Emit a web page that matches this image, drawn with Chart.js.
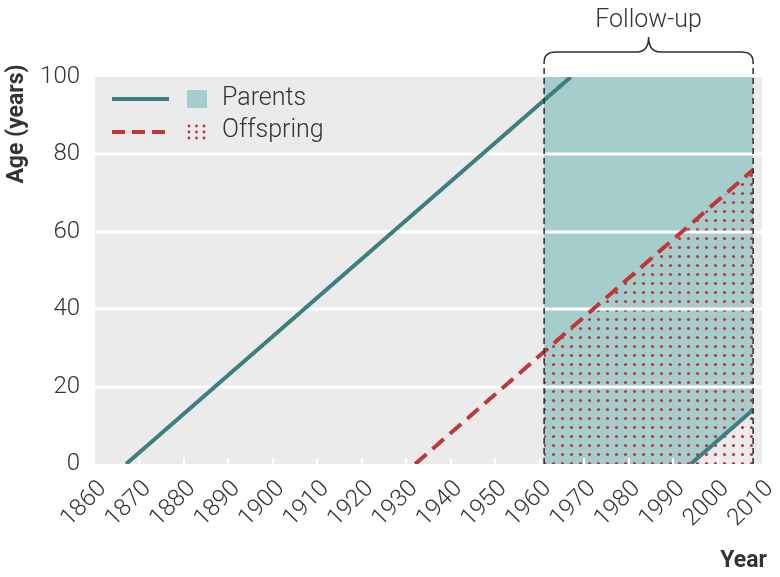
<!DOCTYPE html>
<html>
<head>
<meta charset="utf-8">
<script src="https://cdn.jsdelivr.net/npm/chart.js@4/dist/chart.umd.min.js"></script>
<style>
  html, body { margin: 0; padding: 0; background: #fff; }
  #wrap { width: 780px; height: 577px; position: relative; }
</style>
</head>
<body>
<div id="wrap"><canvas id="chart" width="780" height="577"></canvas></div>
<script>
// data
const yearTicks = [1860, 2010, 10];      // min, max, step
const ageTicks = [0, 100, 20];

const followUp = [1961, 2008];           // follow-up window (years)

const parentsYears = [1867, 1967];
const parentsAge = [0, 100];

const parentsLateYears = [1994, 2008];
const parentsLateAge = [0, 14];

const offspringYears = [1932, 2008];
const offspringAge = [0, 76];
const offspringFollowAge = [29, 76];     // offspring age at start / end of follow-up

const TEAL = '#3d7e7e';
const TEAL_FILL = '#a5cdcc';
const RED = '#c0373a';
const BG = '#ebebeb';
const FONT = 'Roboto, "Open Sans", sans-serif';

function pts(xs, ys) {
    return xs.map((x, i) => ({ x: x, y: ys[i] }));
}

// dotted pattern for offspring area
const patCanvas = document.createElement('canvas');
patCanvas.width = 9;
patCanvas.height = 9;
let pc = patCanvas.getContext('2d');
pc.fillStyle = RED;
pc.beginPath();
pc.arc(4.5, 4.5, 1.6, 0, Math.PI * 2);
pc.fill();
const dots = document.createElement('canvas').getContext('2d').createPattern(patCanvas, 'repeat');

// teal area: between top of axis and the late parent line
const tealTop = followUp.map(x => ({ x: x, y: ageTicks[1] }));
const tealBottom = [{ x: followUp[0], y: 0 }].concat(pts(parentsLateYears, parentsLateAge));

// background + grid + annotations
let gridDone = false;
const decor = {
    id: 'decor',
    beforeDraw(chart) {
        const { ctx, chartArea: a } = chart;
        ctx.save();
        ctx.fillStyle = BG;
        ctx.fillRect(a.left, a.top, a.right - a.left, a.bottom - a.top);
        ctx.restore();
    },
    beforeDatasetsDraw() { gridDone = false; },
    beforeDatasetDraw(chart, args) {
        if (gridDone || args.index > 2) return;
        gridDone = true;
        const { ctx, chartArea: a, scales } = chart;
        ctx.save();
        ctx.strokeStyle = '#fff';
        ctx.lineWidth = 3;
        for (let v = ageTicks[0] + ageTicks[2]; v < ageTicks[1]; v += ageTicks[2]) {
            const y = Math.round(scales.y.getPixelForValue(v));
            ctx.beginPath();
            ctx.moveTo(a.left, y);
            ctx.lineTo(a.right, y);
            ctx.stroke();
        }
        ctx.lineWidth = 2;
        for (let v = yearTicks[0] + yearTicks[2]; v < yearTicks[1]; v += yearTicks[2]) {
            const x = Math.round(scales.x.getPixelForValue(v));
            ctx.beginPath();
            ctx.moveTo(x, a.bottom);
            ctx.lineTo(x, a.bottom - 6);
            ctx.stroke();
        }
        ctx.restore();
    },
    afterDraw(chart) {
        const { ctx, chartArea: a, scales } = chart;
        const xs = followUp.map(v => scales.x.getPixelForValue(v));
        ctx.save();
        // follow-up dashed lines
        ctx.strokeStyle = '#2e2e2e';
        ctx.lineWidth = 1.5;
        ctx.setLineDash([6, 4]);
        xs.forEach(x => {
            ctx.beginPath();
            ctx.moveTo(x, a.bottom);
            ctx.lineTo(x, a.top - 15);
            ctx.stroke();
        });
        ctx.setLineDash([]);
        // brace
        const L = xs[0], R = xs[1], M = (L + R) / 2;
        const yb = a.top - 25, yt = a.top - 40;
        ctx.beginPath();
        ctx.moveTo(L, a.top - 15);
        ctx.quadraticCurveTo(L, yb, L + 12, yb);
        ctx.lineTo(M - 12, yb);
        ctx.quadraticCurveTo(M, yb, M, yt);
        ctx.quadraticCurveTo(M, yb, M + 12, yb);
        ctx.lineTo(R - 12, yb);
        ctx.quadraticCurveTo(R, yb, R, a.top - 15);
        ctx.stroke();
        ctx.fillStyle = '#333';
        ctx.font = '300 25px ' + FONT;
        ctx.textAlign = 'center';
        ctx.textBaseline = 'alphabetic';
        ctx.fillText('Follow-up', M, 27);

        // legend
        ctx.lineWidth = 4;
        ctx.strokeStyle = TEAL;
        ctx.beginPath();
        ctx.moveTo(112, 99);
        ctx.lineTo(169, 99);
        ctx.stroke();
        ctx.fillStyle = TEAL_FILL;
        ctx.fillRect(187, 90, 20, 18);
        ctx.strokeStyle = RED;
        ctx.setLineDash([13, 7]);
        ctx.beginPath();
        ctx.moveTo(112, 132);
        ctx.lineTo(169, 132);
        ctx.stroke();
        ctx.setLineDash([]);
        ctx.fillStyle = RED;
        for (let i = 0; i < 3; i++) {
            for (let j = 0; j < 3; j++) {
                ctx.beginPath();
                ctx.arc(189 + i * 7.5, 126 + j * 6, 1.4, 0, Math.PI * 2);
                ctx.fill();
            }
        }
        ctx.fillStyle = '#333';
        ctx.font = '300 25px ' + FONT;
        ctx.textAlign = 'left';
        ctx.textBaseline = 'middle';
        ctx.fillText('Parents', 222, 99);
        ctx.fillText('Offspring', 222, 131);

        // axis titles
        ctx.font = 'bold 23px ' + FONT;
        ctx.fillStyle = '#333';
        ctx.textAlign = 'right';
        ctx.textBaseline = 'alphabetic';
        ctx.fillText('Year', 767, 567);
        ctx.translate(17, 124);
        ctx.rotate(-Math.PI / 2);
        ctx.textAlign = 'center';
        ctx.textBaseline = 'middle';
        ctx.fillText('Age (years)', 0, 0);
        ctx.restore();
    }
};

const chart = new Chart(document.getElementById('chart'), {
    type: 'line',
    data: {
        datasets: [
            { data: pts(parentsYears, parentsAge), borderColor: TEAL, borderWidth: 4, fill: false },
            { data: pts(parentsLateYears, parentsLateAge), borderColor: TEAL, borderWidth: 4, fill: false },
            { data: pts(offspringYears, offspringAge), borderColor: RED, borderWidth: 4, borderDash: [15, 8], fill: false },
            { data: pts(followUp, offspringFollowAge), borderWidth: 0, borderColor: 'rgba(0,0,0,0)', backgroundColor: dots, fill: 'origin' },
            { data: tealTop, borderWidth: 0, borderColor: 'rgba(0,0,0,0)', backgroundColor: TEAL_FILL, fill: '+1' },
            { data: tealBottom, borderWidth: 0, borderColor: 'rgba(0,0,0,0)', fill: false }
        ]
    },
    options: {
        responsive: false,
        animation: false,
        events: [],
        layout: { padding: { top: 77, right: 18, left: 0, bottom: 0 } },
        elements: { point: { radius: 0 }, line: { tension: 0 } },
        plugins: { legend: { display: false }, tooltip: { enabled: false } },
        scales: {
            x: {
                type: 'linear',
                min: yearTicks[0],
                max: yearTicks[1],
                grid: { display: false },
                border: { display: false },
                ticks: {
                    stepSize: yearTicks[2],
                    autoSkip: false,
                    minRotation: 45,
                    maxRotation: 45,
                    padding: 3,
                    labelOffset: 8,
                    color: '#333',
                    font: { family: FONT, size: 24, weight: '300' },
                    callback: v => String(v)
                },
                afterFit: s => {
                    s.height = 113;
                    s.paddingLeft = 0;
                    s.paddingRight = 0;
                }
            },
            y: {
                min: ageTicks[0],
                max: ageTicks[1],
                grid: { display: false },
                border: { display: false },
                ticks: {
                    stepSize: ageTicks[2],
                    padding: 7,
                    color: '#333',
                    font: { family: FONT, size: 24, weight: '300' }
                },
                afterFit: s => {
                    s.width = 95;
                    s.paddingTop = 0;
                    s.paddingBottom = 0;
                }
            }
        }
    },
    plugins: [decor]
});
</script>
</body>
</html>
